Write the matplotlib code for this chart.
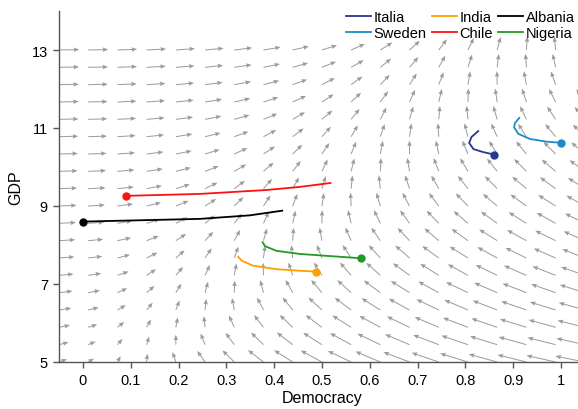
import numpy as np
import matplotlib
matplotlib.use("Agg")
import matplotlib.pyplot as plt

plt.rcParams['font.family'] = ['Liberation Sans', 'DejaVu Sans']

# country trajectories (democracy, GDP); last point is the current value
countries = ['Italia', 'Sweden', 'India', 'Chile', 'Albania', 'Nigeria']
colors = ['#283593', '#1b8cc6', '#ffa000', '#ff1010', '#000000', '#229a22']

italia_x = [0.827, 0.813, 0.808, 0.817, 0.838, 0.860]
italia_y = [10.92, 10.77, 10.62, 10.46, 10.38, 10.32]
sweden_x = [0.913, 0.904, 0.902, 0.911, 0.935, 0.970, 1.001]
sweden_y = [11.26, 11.13, 11.02, 10.85, 10.72, 10.65, 10.62]
india_x = [0.325, 0.332, 0.356, 0.405, 0.454, 0.487]
india_y = [7.70, 7.60, 7.47, 7.38, 7.34, 7.32]
chile_x = [0.518, 0.454, 0.384, 0.245, 0.090]
chile_y = [9.59, 9.49, 9.41, 9.31, 9.26]
albania_x = [0.417, 0.349, 0.245, 0.000]
albania_y = [8.88, 8.76, 8.67, 8.60]
nigeria_x = [0.376, 0.381, 0.405, 0.454, 0.524, 0.582]
nigeria_y = [8.07, 7.97, 7.85, 7.77, 7.71, 7.66]

traj_x = [italia_x, sweden_x, india_x, chile_x, albania_x, nigeria_x]
traj_y = [italia_y, sweden_y, india_y, chile_y, albania_y, nigeria_y]

# phase field of the model (arrow lengths in pixels)
grid_x = np.linspace(-0.05, 1.05, 19)
grid_y = np.linspace(5, 13, 19)
X, Y = np.meshgrid(grid_x, grid_y)

# distance from the democracy nullcline
d = Y - 3.5 - 10 * X
U = np.where(d > 0, 21 * np.tanh(d / 5),
             30 * np.tanh(d / 4) * (1 - 0.07 * (Y - 5)))
w = np.where(d > 0, 4, 9)
V = (1.5 + 12 * np.exp(-(d / w) ** 2)) * (0.25 + 0.75 * np.tanh(4 * np.clip(X, 0, None)))

# pixels per data unit
px_x = 478
px_y = 39

fig = plt.figure(figsize=(5.78, 4.10), dpi=100)
ax = fig.add_axes([59 / 578, 1 - 363 / 410, 1.1 * px_x / 578, 351 / 410])

ax.quiver(X, Y, U / px_x, V / px_y, angles='xy', scale_units='xy', scale=1,
          color='#9c9c9c', width=0.0019, headwidth=4.5, headlength=5.5,
          headaxislength=5, zorder=1)

for name, c, xs, ys in zip(countries, colors, traj_x, traj_y):
    ax.plot(xs, ys, color=c, lw=1.3, label=name, zorder=3)
    ax.plot(xs[-1], ys[-1], 'o', color=c, ms=5, zorder=4)

ax.set_xlim(-0.05, 1.05)
ax.set_ylim(5, 14)
ax.set_xticks(np.arange(0, 1.01, 0.1))
ax.set_xticklabels(['%g' % round(t, 1) for t in np.arange(0, 1.01, 0.1)])
ax.set_yticks([5, 7, 9, 11, 13])

for s in ['top', 'right']:
    ax.spines[s].set_visible(False)
for s in ['left', 'bottom']:
    ax.spines[s].set_color('#555555')
    ax.spines[s].set_linewidth(1.0)
ax.tick_params(direction='out', length=4, width=1.0, color='#555555',
               labelsize=10.5, pad=4)

ax.set_xlabel('Democracy', fontsize=11.5, labelpad=2)
ax.set_ylabel('GDP', fontsize=11.5, labelpad=6)

fig.legend(loc='upper left', bbox_to_anchor=(346 / 578, 1 - 11 / 410), ncol=3,
           frameon=False, fontsize=10.5, handlelength=1.7, handletextpad=0.2,
           columnspacing=0.35, labelspacing=0.15, borderpad=0, borderaxespad=0)

fig.savefig('out.png', dpi=100)
